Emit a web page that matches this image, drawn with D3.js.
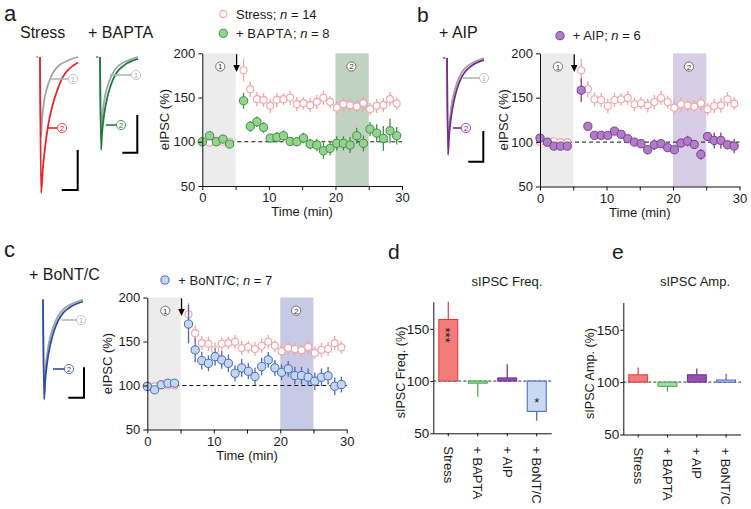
<!DOCTYPE html>
<html><head><meta charset="utf-8">
<script src="https://cdn.jsdelivr.net/npm/d3@7"></script>
<style>
body{margin:0;background:#fff}
svg{display:block}
text{font-family:"Liberation Sans",Arial,Helvetica,sans-serif;fill:#1a1a1a}
</style>
</head><body>
<svg id="chart" width="751" height="509"></svg>
<script>
// ---------------- DATA ----------------
const times = [0,1.1,2.1,3.1,4.1,6.2,7.2,8.2,9.2,10.2,11.2,12.2,13.2,14.2,15.2,16.2,17.2,18.2,19.2,20.2,21.2,22.2,23.2,24.2,25.2,26.2,27.2,28.2,29.2];
const stressVals = [100,99,101,100,100,180.9,159.5,148.2,147.4,140.6,147.4,148.2,149.7,142.6,143.7,141.4,145.1,149.7,145.1,138.8,142.6,141.4,140,143.7,137,140.6,141.4,148.2,143.3];
const stressErr  = [3,3,3,3,3,13,9,8,8,8,8,7,8,8,7,8,8,8,7,7,8,7,7,8,7,8,8,8,7];
const baptaVals = [100,106.8,100,103,97.4,146.3,117.4,122.6,116.2,104.2,105,106.8,100.4,100,104.2,97.4,96.3,89.8,92.5,98.2,98.2,96.3,106.8,98.2,114.3,109.8,103.8,112.4,106.8];
const baptaErr  = [4,5,4,4,4,9,6,6,6,5,6,6,5,5,6,6,7,9,8,8,8,9,9,9,8,10,14,14,10];
const aipVals = [104.5,100,95.5,95.5,95.5,158.5,117.8,107.6,107.6,107.6,112.4,108.7,103.8,100,98.2,91.4,97,98.2,93.7,91.4,98.9,101.1,97.4,86.1,106.4,101.9,101.9,97,95.5];
const aipErr  = [3,3,3,3,3,13,4,4,4,4,4,4,3,3,3,5,6,4,4,4,5,6,5,6,5,9,9,5,8];
const bontVals = [98.9,95.1,100.8,102.6,102.6,169.8,140.4,128.3,125.2,132.8,129.1,125.2,113.9,120,116.2,110.2,121.5,129.1,120,115,118.9,111.3,111.3,109.4,104.9,109.4,111,99.2,101.1];
const bontErr  = [3,3,3,3,3,22,14,10,9,10,10,10,9,10,9,10,10,9,9,9,9,10,10,10,10,10,10,10,9];

const barCats = ["Stress","+ BAPTA","+ AIP","+ BoNT/C"];
const freqVals = [159,98,103,71];
const freqErr  = [17,-13,13,-9];
const ampVals  = [107,96,107,102];
const ampErr   = [7,-5,6,6];

const timeTicks = [0,5,10,15,20,25,30];
const pctTicks = [50,100,150,200];
const barTicks = [50,100,150];

// example trace shapes (normalised current vs time)
const traceFast = [[0,0],[1,-1],[2,-0.78],[4,-0.55],[7,-0.38],[10,-0.27],[14,-0.17],[19,-0.1],[26,-0.05],[37,0]];
const traceMid  = [[0,0],[1,-1],[2,-0.82],[4,-0.62],[7,-0.44],[10,-0.32],[14,-0.21],[19,-0.13],[26,-0.07],[37,-0.02]];
const traceSlow = [[0,0],[1,-1],[3,-0.8],[5,-0.66],[8,-0.5],[12,-0.36],[17,-0.24],[22,-0.15],[28,-0.09],[37,-0.04]];
// peak amplitudes (nA) of the example traces: [control ①, treatment ②]
const ampStressTr = [0.80,1.36];
const ampBaptaTr  = [0.80,0.93];
const ampAipTr    = [0.92,0.97];
const ampBontTr   = [0.96,1.00];

// ---------------- DRAWING ----------------
const svg = d3.select("#chart");
const FONT = '"Liberation Sans",Arial,Helvetica,sans-serif';

function txt(g, x, y, s, size, opts={}){
  const t = g.append("text").attr("x",x).attr("y",y).attr("font-size",size).text(s);
  if(opts.anchor) t.attr("text-anchor",opts.anchor);
  if(opts.fill) t.style("fill",opts.fill);
  return t;
}
function circled(g, cx, cy, n, color, textColor){
  g.append("circle").attr("cx",cx).attr("cy",cy).attr("r",4.6).attr("fill","#fff").attr("stroke",color).attr("stroke-width",0.8);
  g.append("text").attr("x",cx).attr("y",cy+2.9).attr("text-anchor","middle").attr("font-size",8).style("fill",textColor||color).text(n);
}

function styleAxis(a, fs){
  a.selectAll("path,line").attr("stroke","#111").attr("stroke-width",1);
  a.selectAll("text").attr("font-size",fs||13).attr("font-family",FONT).style("fill","#1a1a1a");
}

function timeCourse(o){
  const g = svg.append("g");
  const x = d3.scaleLinear().domain([0,30]).range([o.x0,o.x1]);
  const y = d3.scaleLinear().domain([50,200]).range([o.y0,o.y1]);
  g.append("rect").attr("x",x(0)).attr("y",y(200)).attr("width",x(5)-x(0)).attr("height",y(50)-y(200)).attr("fill","#ececec");
  g.append("rect").attr("x",x(20)).attr("y",y(200)).attr("width",x(25)-x(20)).attr("height",y(50)-y(200)).attr("fill",o.shade);
  circled(g, x(2.7), y(185), "1", "#555", "#333");
  circled(g, x(22.4), y(185), "2", "#555", "#333");
  g.append("line").attr("x1",x(0)).attr("x2",x(30)).attr("y1",y(100)).attr("y2",y(100))
    .attr("stroke","#111").attr("stroke-width",1).attr("stroke-dasharray","4,3");

  function series(vals, errs, st){
    const d = times.map((t,i)=>({t, v:vals[i], e:errs[i]}));
    g.append("g").selectAll("line").data(d).join("line")
      .attr("x1",p=>x(p.t)).attr("x2",p=>x(p.t))
      .attr("y1",p=>y(p.v-p.e)).attr("y2",p=>y(p.v+p.e))
      .attr("stroke",st.err).attr("stroke-width",1.3);
    g.append("g").selectAll("circle").data(d).join("circle")
      .attr("cx",p=>x(p.t)).attr("cy",p=>y(p.v)).attr("r",st.r)
      .attr("fill",st.fill).attr("stroke",st.stroke).attr("stroke-width",st.sw||1);
  }
  series(stressVals, stressErr, {fill:"#fff", stroke:"#f3a3aa", err:"#f3a3aa", r:3.5, sw:1.1});
  series(o.vals, o.errs, o.style);

  // arrow (onset)
  const ax = x(5.15), yA = y(199), yB = y(180);
  g.append("line").attr("x1",ax).attr("x2",ax).attr("y1",yA).attr("y2",yB-5).attr("stroke","#000").attr("stroke-width",1.3);
  g.append("path").attr("d",`M${ax-3.3},${yB-6}L${ax+3.3},${yB-6}L${ax},${yB+1}Z`).attr("fill","#000");

  const xa = g.append("g").attr("transform",`translate(0,${y(50)})`)
    .call(d3.axisBottom(x).tickValues(timeTicks).tickFormat(d=>d%10===0?d:"").tickSize(4).tickSizeOuter(0).tickPadding(3));
  styleAxis(xa);
  const ya = g.append("g").attr("transform",`translate(${x(0)},0)`)
    .call(d3.axisLeft(y).tickValues(pctTicks).tickSize(4).tickSizeOuter(0).tickPadding(3));
  styleAxis(ya);
  txt(g, (x(0)+x(30))/2, y(50)+30, "Time (min)", 13, {anchor:"middle"});
  g.append("text").attr("transform",`translate(${o.ylx},${(y(50)+y(200))/2}) rotate(-90)`)
    .attr("text-anchor","middle").attr("dy","0.35em").attr("font-size",13).text("eIPSC (%)");
  return {x,y};
}

function traces(o){
  const g = svg.append("g");
  const x = d3.scaleLinear().domain([0,37]).range([o.x0,o.x0+o.w]);
  const y = d3.scaleLinear().domain([0,-1]).range([o.base,o.base+100]);
  const line = d3.line().x(d=>x(d[0])).y(d=>y(d[1])).curve(d3.curveMonotoneX);
  if(o.stim) g.append("line").attr("x1",x(-4)).attr("x2",x(-1.5)).attr("y1",y(0)).attr("y2",y(0)).attr("stroke",o.stim).attr("stroke-width",1.6);
  g.append("path").attr("d",line(o.shape1.map(d=>[d[0],d[1]*o.amps[0]]))).attr("fill","none").attr("stroke","#a3a3a3").attr("stroke-width",1.8);
  g.append("path").attr("d",line(o.shape2.map(d=>[d[0],d[1]*o.amps[1]]))).attr("fill","none").attr("stroke",o.color).attr("stroke-width",1.8);
  return g;
}
function labelLine(g, x1, x2, yy, color, n){
  g.append("line").attr("x1",x1).attr("x2",x2).attr("y1",yy).attr("y2",yy).attr("stroke",color).attr("stroke-width",1.6);
  circled(g, x2+5, yy, n, color, color);
}
function scaleBar(g, xr, yt, yb, xl){
  g.append("path").attr("d",`M${xr},${yt}V${yb}H${xl}`).attr("fill","none").attr("stroke","#000").attr("stroke-width",2);
}

// ---------- panel a ----------
txt(svg, 4, 20.5, "a", 22);
txt(svg, 20, 38, "Stress", 16);
txt(svg, 88, 38, "+ BAPTA", 16);
let tg = traces({x0:40, w:38, base:57, amps:ampStressTr, shape1:traceFast, shape2:traceSlow, color:"#e8262b", stim:"#c9a0a5"});
labelLine(tg, 50, 68, 79, "#b5b5b5", "1");
labelLine(tg, 48, 57, 128, "#e8262b", "2");
scaleBar(tg, 77.7, 150, 190, 61.7);
tg = traces({x0:100, w:38, base:57, amps:ampBaptaTr, shape1:traceFast, shape2:traceMid, color:"#1e7b40", stim:"#4a9a5a"});
labelLine(tg, 110, 131, 75, "#b5b5b5", "1");
labelLine(tg, 106, 116, 125, "#1e7b40", "2");
scaleBar(tg, 137.3, 115, 152.7, 122.3);

timeCourse({x0:202.3, x1:402, y0:186, y1:53.3, shade:"#c0d2c1", vals:baptaVals, errs:baptaErr, ylx:164,
  style:{fill:"#96d38e", stroke:"#3f8f47", err:"#3f8f47", r:4.1}});
svg.append("circle").attr("cx",223.3).attr("cy",14).attr("r",3.6).attr("fill","#fff").attr("stroke","#f3a3aa").attr("stroke-width",1.1);
svg.append("text").attr("x",236).attr("y",18.5).attr("font-size",13).html('Stress; <tspan font-style="italic">n</tspan> = 14');
svg.append("circle").attr("cx",223.3).attr("cy",33.3).attr("r",4.1).attr("fill","#96d38e").attr("stroke","#3f8f47");
svg.append("text").attr("x",236).attr("y",38).attr("font-size",13).html('+ <tspan letter-spacing="0.8">BAPTA</tspan>; <tspan font-style="italic">n</tspan> = 8');

// ---------- panel b ----------
txt(svg, 417, 21.5, "b", 21);
txt(svg, 439, 37.5, "+ AIP", 16);
tg = traces({x0:447, w:37, base:58, amps:ampAipTr, shape1:traceFast, shape2:traceMid, color:"#7a2b8c", stim:"#8a4a9a"});
labelLine(tg, 462.7, 479, 78, "#b5b5b5", "1");
labelLine(tg, 453, 461, 128, "#7a2b8c", "2");
scaleBar(tg, 483.3, 131, 161.7, 468.3);
timeCourse({x0:540, x1:739.5, y0:186.5, y1:53.3, shade:"#d8cde5", vals:aipVals, errs:aipErr, ylx:503.5,
  style:{fill:"#b27dc7", stroke:"#7a3c95", err:"#7a3c95", r:4.1}});
svg.append("circle").attr("cx",560).attr("cy",35.7).attr("r",4.1).attr("fill","#b27dc7").attr("stroke","#7a3c95");
svg.append("text").attr("x",572.7).attr("y",40.2).attr("font-size",13).html('+ AIP; <tspan font-style="italic">n</tspan> = 6');

// ---------- panel c ----------
txt(svg, 4, 257, "c", 22);
txt(svg, 29, 280, "+ BoNT/C", 16);
tg = traces({x0:43, w:40, base:299.5, amps:ampBontTr, shape1:traceFast, shape2:traceMid, color:"#2c4ea3"});
labelLine(tg, 61.7, 76, 320, "#b5b5b5", "1");
labelLine(tg, 53, 64, 369, "#2c4ea3", "2");
scaleBar(tg, 84, 367.3, 397.7, 68.3);
timeCourse({x0:147.3, x1:346.7, y0:429.5, y1:297.5, shade:"#c8cae5", vals:bontVals, errs:bontErr, ylx:107.5,
  style:{fill:"#c3d6f2", stroke:"#4a68b8", err:"#4a68b8", r:4.1}});
svg.append("circle").attr("cx",165).attr("cy",280).attr("r",4.1).attr("fill","#c3d6f2").attr("stroke","#4a68b8");
svg.append("text").attr("x",178.3).attr("y",284.5).attr("font-size",13).html('+ BoNT/C; <tspan font-style="italic">n</tspan> = 7');

// ---------- bar charts ----------
const barFill   = ["#f37b7b","#a7dca6","#9650b0","#c7d9f3"];
const barStroke = ["#e0393e","#3da34a","#6e2a88","#3e63b8"];
function barChart(o){
  const g = svg.append("g");
  const x = d3.scaleBand().domain(barCats).range([o.x0,o.x1]).paddingInner(0.356).paddingOuter(0.186);
  const y = d3.scaleLinear().domain([50,176]).range([o.y0,o.y1]);
  g.append("line").attr("x1",o.x0).attr("x2",o.x1).attr("y1",y(100)).attr("y2",y(100))
    .attr("stroke","#333").attr("stroke-width",1).attr("stroke-dasharray","3,2");
  const d = barCats.map((c,i)=>({c, v:o.vals[i], e:o.errs[i], i}));
  g.selectAll(".err").data(d).join("line")
    .attr("x1",p=>x(p.c)+x.bandwidth()/2).attr("x2",p=>x(p.c)+x.bandwidth()/2)
    .attr("y1",p=>y(p.v)).attr("y2",p=>y(p.v+p.e))
    .attr("stroke",p=>barStroke[p.i]).attr("stroke-width",1.2);
  g.selectAll(".bar").data(d).join("rect")
    .attr("x",p=>x(p.c)).attr("width",x.bandwidth())
    .attr("y",p=>y(Math.max(p.v,100))).attr("height",p=>Math.abs(y(p.v)-y(100)))
    .attr("fill",p=>barFill[p.i]).attr("stroke",p=>barStroke[p.i]).attr("stroke-width",1);
  const ya = g.append("g").attr("transform",`translate(${o.x0},0)`)
    .call(d3.axisLeft(y).tickValues(barTicks).tickSize(3).tickSizeOuter(0).tickPadding(1));
  styleAxis(ya, 13.5);
  const xa = g.append("g").attr("transform",`translate(0,${y(50)})`)
    .call(d3.axisBottom(x).tickSize(3).tickSizeOuter(0).tickFormat(""));
  xa.select(".domain").attr("d",`M${o.x0},0.5H${o.x1}`);
  styleAxis(xa);
  barCats.forEach(c=>{
    g.append("text").attr("transform",`translate(${x(c)+x.bandwidth()/2},${y(50)+13}) rotate(90)`)
      .attr("dy","0.36em").attr("font-size",13).text(c);
  });
  txt(g, o.tx, 286, o.title, 13, {anchor:"middle"});
  g.append("text").attr("transform",`translate(${o.ylx},${(y(50)+y(176))/2+5}) rotate(-90)`)
    .attr("text-anchor","middle").attr("dy","0.35em").attr("font-size",12.6).text(o.ylab);
  return {g,x,y};
}
txt(svg, 388, 258.5, "d", 21);
const bd = barChart({x0:433.3, x1:551.7, y0:433.3, y1:301.7, vals:freqVals, errs:freqErr, title:"sIPSC Freq.", tx:507, ylab:"sIPSC Freq. (%)", ylx:400.5});
bd.g.append("text").attr("transform",`translate(${bd.x("Stress")+bd.x.bandwidth()/2},${bd.y(144)}) rotate(90)`)
  .attr("text-anchor","middle").attr("dy","0.55em").attr("font-size",13).text("***");
bd.g.append("text").attr("transform",`translate(${bd.x("+ BoNT/C")+bd.x.bandwidth()/2},${bd.y(82)})`)
  .attr("text-anchor","middle").attr("dy","0.55em").attr("font-size",13).text("*");
txt(svg, 612, 258.5, "e", 21);
barChart({x0:623.3, x1:741, y0:434.5, y1:302.5, vals:ampVals, errs:ampErr, title:"sIPSC Amp.", tx:695, ylab:"sIPSC Amp. (%)", ylx:589.5});
</script>
</body></html>
